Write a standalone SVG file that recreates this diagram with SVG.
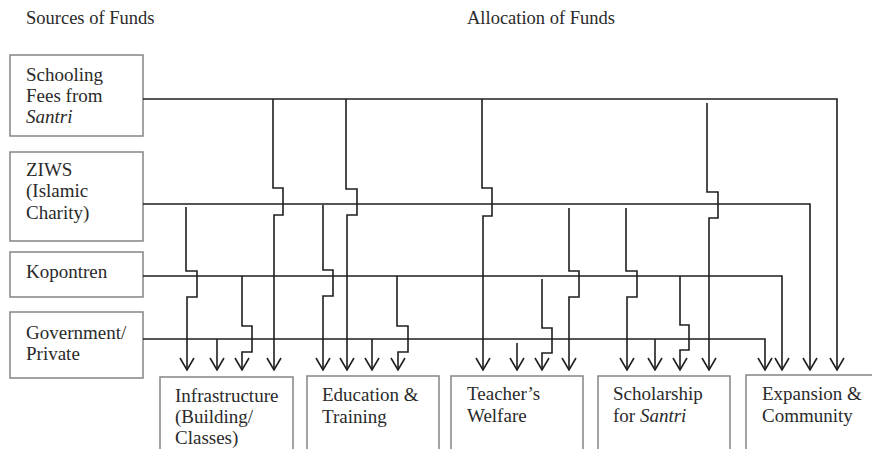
<svg xmlns="http://www.w3.org/2000/svg" width="872" height="449" viewBox="0 0 872 449">
  <style>
    .box { fill: #ffffff; stroke: #858585; stroke-width: 1.5; }
    .lbl { font-family: "Liberation Serif", "Times New Roman", serif; font-size: 19px; fill: #2a2a2a; }
    .hdr { font-family: "Liberation Serif", "Times New Roman", serif; font-size: 18.5px; fill: #2a2a2a; }
    .it { font-style: italic; }
    .feed { fill: none; stroke: #1f1f1f; stroke-width: 1.6; marker-end: url(#arr); }
  </style>
  <defs>
    <marker id="arr" markerUnits="userSpaceOnUse" orient="auto" markerWidth="20" markerHeight="20" viewBox="-14 -10 16 20" refX="0" refY="0" overflow="visible">
      <path d="M-12,-7 L0,0 L-12,7" fill="none" stroke="#1f1f1f" stroke-width="1.6"/>
    </marker>
  </defs>

  <rect width="872" height="449" fill="#ffffff"/>

  <!-- column headings -->
  <text class="hdr" x="26" y="24">Sources of Funds</text>
  <text class="hdr" x="467" y="24">Allocation of Funds</text>

  <!-- funding sources -->
  <g id="src-fees">
    <rect class="box" x="10" y="55" width="133" height="81"/>
    <text class="lbl" x="26" y="81">Schooling</text>
    <text class="lbl" x="26" y="102">Fees from</text>
    <text class="lbl it" x="26" y="123">Santri</text>
  </g>
  <g id="src-ziws">
    <rect class="box" x="10" y="152" width="133" height="89"/>
    <text class="lbl" x="26" y="176">ZIWS</text>
    <text class="lbl" x="26" y="197">(Islamic</text>
    <text class="lbl" x="26" y="219">Charity)</text>
  </g>
  <g id="src-kopontren">
    <rect class="box" x="10" y="252" width="133" height="45"/>
    <text class="lbl" x="26" y="278">Kopontren</text>
  </g>
  <g id="src-government">
    <rect class="box" x="10" y="312" width="133" height="66"/>
    <text class="lbl" x="26" y="339">Government/</text>
    <text class="lbl" x="26" y="360">Private</text>
  </g>

  <!-- allocations -->
  <g id="dst-infrastructure">
    <rect class="box" x="160" y="377" width="133" height="90"/>
    <text class="lbl" x="175" y="402">Infrastructure</text>
    <text class="lbl" x="175" y="423">(Building/</text>
    <text class="lbl" x="175" y="444">Classes)</text>
  </g>
  <g id="dst-education">
    <rect class="box" x="307" y="376" width="132" height="90"/>
    <text class="lbl" x="322" y="401">Education &amp;</text>
    <text class="lbl" x="322" y="423">Training</text>
  </g>
  <g id="dst-welfare">
    <rect class="box" x="451" y="376" width="132" height="90"/>
    <text class="lbl" x="467" y="400">Teacher’s</text>
    <text class="lbl" x="467" y="422">Welfare</text>
  </g>
  <g id="dst-scholarship">
    <rect class="box" x="598" y="376" width="132" height="90"/>
    <text class="lbl" x="613" y="400">Scholarship</text>
    <text class="lbl" x="613" y="422">for <tspan class="it">Santri</tspan></text>
  </g>
  <g id="dst-expansion">
    <rect class="box" x="746" y="375" width="140" height="90"/>
    <text class="lbl" x="762" y="400">Expansion &amp;</text>
    <text class="lbl" x="762" y="422">Community</text>
  </g>

  <!-- money flows: each trunk line with its drops, hops over crossing trunks -->
  <g id="connectors">
    <!-- schooling fees -->
    <path class="feed" d="M143 99 H837 V370"/>
    <path class="feed" d="M273 99 V188 H283 V215 H274 V370"/>
    <path class="feed" d="M346 99 V189 H357 V215 H347 V370"/>
    <path class="feed" d="M482 99 V188 H492 V216 H483 V370"/>
    <path class="feed" d="M707 103 V192 H718 V218 H709 V370"/>
    <!-- ZIWS -->
    <path class="feed" d="M143 204 H810 V370"/>
    <path class="feed" d="M186 207 V271 H197 V297 H187 V370"/>
    <path class="feed" d="M323 205 V270 H333 V296 H323 V370"/>
    <path class="feed" d="M569 208 V271 H579 V297 H569 V370"/>
    <path class="feed" d="M626 208 V271 H637 V297 H627 V370"/>
    <!-- Kopontren -->
    <path class="feed" d="M143 276 H782 V370"/>
    <path class="feed" d="M242 276 V326 H252 V352 H242 V370"/>
    <path class="feed" d="M397 276 V326 H408 V352 H398 V370"/>
    <path class="feed" d="M542 279 V328 H552 V353 H542 V370"/>
    <path class="feed" d="M680 276 V325 H689 V350 H680 V370"/>
    <!-- Government / private -->
    <path class="feed" d="M143 339 H765 V370"/>
    <path class="feed" d="M217 339 V370"/>
    <path class="feed" d="M372 339 V370"/>
    <path class="feed" d="M517 343 V370"/>
    <path class="feed" d="M655 339 V370"/>
  </g>
</svg>
